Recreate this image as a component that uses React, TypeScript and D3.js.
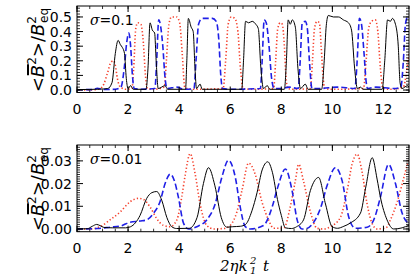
import * as d3 from "d3";

// ---- data ----
const xTicks = [0, 2, 4, 6, 8, 10, 12];
const topYTicks = [0, 0.1, 0.2, 0.3, 0.4, 0.5];
const topYLabels = ["0.0", "0.1", "0.2", "0.3", "0.4", "0.5"];
const botYTicks = [0, 0.01, 0.02, 0.03];
const botYLabels = ["0.00", "0.01", "0.02", "0.03"];

// sigma = 0.1 panel: [t, <B^2>/B_eq^2]
const topBlack = [
  [0, 0.003], [0.5, 0.004], [0.9, 0.006], [1.2, 0.01], [1.37, 0.05], [1.5, 0.25], [1.61, 0.34], [1.7, 0.31],
  [1.78, 0.29], [1.86, 0.25], [1.93, 0.08], [2.0, 0.01], [2.1, 0.03], [2.2, 0.005], [2.7, 0.005], [2.78, 0.15],
  [2.86, 0.46], [2.95, 0.41], [3.04, 0.39], [3.1, 0.2], [3.18, 0.01], [3.45, 0.03], [3.55, 0.005], [4.25, 0.005],
  [4.3, 0.2], [4.36, 0.49], [4.47, 0.43], [4.55, 0.4], [4.62, 0.15], [4.68, 0.01], [4.82, 0.04], [4.9, 0.005],
  [6.45, 0.005], [6.52, 0.2], [6.6, 0.47], [6.72, 0.46], [6.86, 0.47], [7.0, 0.45], [7.1, 0.42], [7.2, 0.15],
  [7.3, 0.01], [7.45, 0.03], [7.55, 0.005], [8.12, 0.005], [8.2, 0.2], [8.27, 0.48], [8.35, 0.45], [8.43, 0.48],
  [8.55, 0.43], [8.65, 0.15], [8.75, 0.01], [8.94, 0.04], [9.05, 0.005], [9.58, 0.005], [9.68, 0.2], [9.76, 0.44],
  [9.84, 0.51], [10.04, 0.5], [10.24, 0.5], [10.43, 0.48], [10.63, 0.46], [10.75, 0.41], [10.87, 0.15], [10.98, 0.01],
  [11.1, 0.02], [11.2, 0.005], [11.95, 0.005], [12.05, 0.2], [12.16, 0.48], [12.27, 0.47], [12.35, 0.49], [12.47, 0.45],
  [12.58, 0.3], [12.65, 0.05], [12.72, 0.01], [12.95, 0.03], [13, 0.02],
];
const topBlue = [
  [0, 0.002], [0.6, 0.003], [0.8, 0.012], [1.0, 0.004], [1.5, 0.005], [1.72, 0.02], [1.85, 0.15], [1.95, 0.33],
  [2.03, 0.39], [2.1, 0.3], [2.17, 0.1], [2.24, 0.01], [2.5, 0.005], [3.05, 0.01], [3.12, 0.2], [3.2, 0.48],
  [3.28, 0.43], [3.36, 0.3], [3.45, 0.08], [3.53, 0.01], [3.9, 0.02], [4.2, 0.005], [4.58, 0.01], [4.66, 0.2],
  [4.76, 0.45], [4.9, 0.49], [5.1, 0.49], [5.3, 0.49], [5.45, 0.47], [5.55, 0.35], [5.63, 0.1], [5.7, 0.01],
  [6.0, 0.005], [7.18, 0.01], [7.25, 0.2], [7.33, 0.48], [7.41, 0.46], [7.52, 0.3], [7.62, 0.08], [7.72, 0.01],
  [8.0, 0.01], [8.3, 0.02], [8.66, 0.01], [8.74, 0.2], [8.82, 0.46], [8.94, 0.47], [9.02, 0.42], [9.1, 0.2],
  [9.2, 0.01], [9.5, 0.01], [10.2, 0.02], [10.88, 0.01], [10.97, 0.2], [11.06, 0.49], [11.14, 0.45], [11.24, 0.25],
  [11.32, 0.06], [11.38, 0.01], [11.7, 0.02], [12.4, 0.01], [12.68, 0.02], [12.78, 0.2], [12.86, 0.45], [12.95, 0.5],
  [13, 0.5],
];
const topRed = [
  [0, 0], [0.7, 0.002], [0.9, 0.01], [1.05, 0.04], [1.2, 0.12], [1.33, 0.19], [1.43, 0.2], [1.5, 0.17],
  [1.58, 0.08], [1.7, 0.02], [1.9, 0.005], [2.15, 0.01], [2.22, 0.15], [2.3, 0.42], [2.38, 0.46], [2.5, 0.45],
  [2.6, 0.32], [2.68, 0.1], [2.76, 0.01], [3.0, 0.005], [3.42, 0.02], [3.5, 0.2], [3.6, 0.45], [3.7, 0.5],
  [3.9, 0.5], [4.02, 0.46], [4.12, 0.25], [4.22, 0.02], [4.4, 0.005], [5.72, 0.01], [5.82, 0.2], [5.92, 0.45],
  [6.04, 0.5], [6.18, 0.49], [6.3, 0.4], [6.4, 0.15], [6.5, 0.01], [6.8, 0.005], [7.7, 0.01], [7.78, 0.2],
  [7.86, 0.42], [7.96, 0.46], [8.04, 0.45], [8.12, 0.3], [8.18, 0.1], [8.25, 0.01], [8.5, 0.005], [9.14, 0.01],
  [9.22, 0.2], [9.3, 0.42], [9.4, 0.47], [9.49, 0.46], [9.56, 0.3], [9.63, 0.1], [9.7, 0.01], [10.0, 0.005],
  [11.22, 0.01], [11.32, 0.2], [11.42, 0.42], [11.53, 0.47], [11.68, 0.48], [11.78, 0.4], [11.88, 0.15], [11.98, 0.01],
  [12.3, 0.005], [12.78, 0.02], [12.9, 0.12], [13, 0.25],
];

// sigma = 0.01 panel
const botBlack = [
  [0, 0], [0.4, 0.0001], [0.6, 0.0012], [0.77, 0.002], [0.9, 0.0015], [1.05, 0.0007], [1.4, 0.0005], [1.9, 0.0005],
  [2.1, 0.001], [2.47, 0.006], [2.73, 0.0135], [2.93, 0.016], [3.12, 0.0165], [3.32, 0.0126], [3.52, 0.005], [3.71, 0.001],
  [3.9, 0.0002], [4.4, 0.0003], [4.7, 0.005], [4.95, 0.02], [5.15, 0.027], [5.4, 0.019], [5.65, 0.005], [5.87, 0.0008],
  [6.1, 0.001], [6.4, 0.0012], [6.6, 0.002], [6.85, 0.008], [7.05, 0.016], [7.25, 0.026], [7.47, 0.0296], [7.65, 0.025],
  [7.85, 0.013], [8.0, 0.006], [8.16, 0.0005], [8.4, 0.0002], [8.6, 0.001], [8.87, 0.004], [9.14, 0.017], [9.46, 0.0227],
  [9.73, 0.011], [9.99, 0.001], [10.2, 0.0003], [10.45, 0.0012], [10.7, 0.0026], [11.1, 0.007], [11.3, 0.018], [11.56, 0.0314],
  [11.75, 0.022], [11.88, 0.014], [12.14, 0.004], [12.4, 0.0], [12.73, 0.0005], [13, 0.0017],
];
const botBlue = [
  [0, 0], [0.8, 0.0002], [1.3, 0.0008], [1.7, 0.0013], [2.08, 0.003], [2.47, 0.0035], [2.73, 0.004], [3.0, 0.007],
  [3.25, 0.012], [3.45, 0.02], [3.65, 0.0242], [3.82, 0.021], [3.97, 0.014], [4.17, 0.0026], [4.37, 0.0], [4.69, 0.001],
  [5.08, 0.004], [5.41, 0.011], [5.67, 0.0227], [5.93, 0.0303], [6.2, 0.0227], [6.39, 0.0097], [6.59, 0.001], [6.78, 0.0],
  [7.3, 0.0015], [7.65, 0.01], [7.85, 0.018], [8.16, 0.0264], [8.42, 0.017], [8.62, 0.004], [8.81, 0.0], [9.0, 0.0002],
  [9.27, 0.003], [9.53, 0.009], [9.79, 0.019], [10.12, 0.027], [10.38, 0.0213], [10.64, 0.0053], [10.9, 0.0003], [11.36, 0.0008],
  [11.62, 0.004], [11.88, 0.014], [12.2, 0.0285], [12.47, 0.02], [12.73, 0.007], [12.93, 0.003], [13, 0.0025],
];
const botRed = [
  [0, 0], [0.5, 0], [0.9, 0.001], [1.29, 0.004], [1.69, 0.0075], [2.08, 0.012], [2.4, 0.0135], [2.6, 0.013],
  [2.86, 0.0097], [3.12, 0.0046], [3.38, 0.0016], [3.65, 0.001], [3.91, 0.004], [4.1, 0.014], [4.24, 0.024], [4.43, 0.0332],
  [4.63, 0.024], [4.82, 0.011], [5.08, 0.0016], [5.35, 0], [5.74, 0.0002], [6.0, 0.0016], [6.26, 0.0075], [6.46, 0.017],
  [6.72, 0.029], [6.98, 0.024], [7.24, 0.012], [7.5, 0.004], [7.7, 0.0003], [8.1, 0.0005], [8.35, 0.0097], [8.55, 0.0213],
  [8.68, 0.0285], [8.87, 0.021], [9.14, 0.0075], [9.4, 0.0003], [9.66, 0], [9.92, 0.001], [10.31, 0.005], [10.58, 0.017],
  [10.77, 0.0285], [10.97, 0.033], [11.16, 0.0253], [11.36, 0.011], [11.56, 0.0023], [11.75, 0], [12.1, 0.0005], [12.27, 0.004],
  [12.54, 0.012], [12.8, 0.0227], [13, 0.0313],
];

const W = 415;
const H = 277;
const left = 77;
const right = 409;
const tickFont = "'DejaVu Sans', sans-serif";

const styles = {
  black: { stroke: "#000", strokeWidth: 1, dash: undefined },
  blue: { stroke: "#1f1fe6", strokeWidth: 1.6, dash: "6,3" },
  red: { stroke: "#f5402c", strokeWidth: 1.6, dash: "1.3,2.2" },
};

type Pt = number[];

function Panel({ id, top, bottom, domain, ticks, labels, minorStep, series, sigma }: {
  id: string; top: number; bottom: number; domain: [number, number]; ticks: number[]; labels: string[];
  minorStep: number; series: { data: Pt[]; style: { stroke: string; strokeWidth: number; dash?: string } }[]; sigma: string;
}) {
  const x = d3.scaleLinear().domain([0, 13]).range([left, right]);
  const y = d3.scaleLinear().domain(domain).range([bottom, top]);
  const line = d3.line<Pt>().x((d) => x(d[0])).y((d) => y(d[1])).curve(d3.curveMonotoneX);
  const yMinor = d3.range(Math.ceil(domain[0] / minorStep) * minorStep, domain[1], minorStep);
  const xMinor = d3.range(0, 13.01, 0.5);
  const midY = (top + bottom) / 2;

  return (
    <g>
      <defs>
        <clipPath id={id}>
          <rect x={left} y={top} width={right - left} height={bottom - top} />
        </clipPath>
      </defs>
      <g clipPath={`url(#${id})`}>
        {series.map((s, i) => (
          <path key={i} d={line(s.data) || ""} fill="none" stroke={s.style.stroke}
            strokeWidth={s.style.strokeWidth} strokeDasharray={s.style.dash} />
        ))}
      </g>
      <rect x={left} y={top} width={right - left} height={bottom - top} fill="none" stroke="#000" strokeWidth={1} />
      {/* y ticks, both sides */}
      {yMinor.map((v, i) => (
        <g key={"ym" + i} stroke="#000" strokeWidth={0.8}>
          <line x1={left} x2={left + 3} y1={y(v)} y2={y(v)} />
          <line x1={right} x2={right - 3} y1={y(v)} y2={y(v)} />
        </g>
      ))}
      {ticks.map((v, i) => (
        <g key={"y" + i}>
          <line x1={left} x2={left + 6} y1={y(v)} y2={y(v)} stroke="#000" />
          <line x1={right} x2={right - 6} y1={y(v)} y2={y(v)} stroke="#000" />
          <text x={left - 5} y={y(v)} dy="0.36em" textAnchor="end" fontSize={14} fontFamily={tickFont}>{labels[i]}</text>
        </g>
      ))}
      {/* x ticks, top and bottom */}
      {xMinor.map((v, i) => (
        <g key={"xm" + i} stroke="#000" strokeWidth={0.8}>
          <line x1={x(v)} x2={x(v)} y1={bottom} y2={bottom - 3} />
          <line x1={x(v)} x2={x(v)} y1={top} y2={top + 3} />
        </g>
      ))}
      {xTicks.map((v) => (
        <g key={"x" + v}>
          <line x1={x(v)} x2={x(v)} y1={bottom} y2={bottom - 6} stroke="#000" />
          <line x1={x(v)} x2={x(v)} y1={top} y2={top + 6} stroke="#000" />
          <text x={x(v)} y={bottom + 21} textAnchor="middle" fontSize={14} fontFamily={tickFont}>{v}</text>
        </g>
      ))}
      <text x={90} y={top + 19} fontSize={14} fontFamily={tickFont}>
        <tspan fontFamily="'DejaVu Serif', serif" fontStyle="italic">σ</tspan>=0.{sigma}
      </text>
      {/* y axis title */}
      <g transform={`translate(44,${midY + 43}) rotate(-90)`} fontFamily={tickFont}>
        <text x={0} y={0} fontSize={18}>
          <tspan>&lt;</tspan>
          <tspan fontStyle="italic">B</tspan>
          <tspan fontSize={12} dy={-8}>2</tspan>
          <tspan dy={8}>&gt;/</tspan>
          <tspan fontStyle="italic">B</tspan>
          <tspan fontSize={12} dy={-8}>2</tspan>
          <tspan fontSize={12} dx={-7} dy={12}>eq</tspan>
        </text>
        <line x1={17} x2={28} y1={-16} y2={-16} stroke="#000" strokeWidth={2} />
      </g>
    </g>
  );
}

export default function App() {
  return (
    <svg width={W} height={H} style={{ position: "absolute", left: 0, top: 0, background: "#fff" }}>
      <Panel id="clipTop" top={6} bottom={92.5} domain={[-0.017, 0.575]} ticks={topYTicks} labels={topYLabels}
        minorStep={0.02} sigma="1"
        series={[
          { data: topRed, style: styles.red },
          { data: topBlue, style: styles.blue },
          { data: topBlack, style: styles.black },
        ]} />
      <Panel id="clipBot" top={145} bottom={231.7} domain={[-0.0012, 0.037]} ticks={botYTicks} labels={botYLabels}
        minorStep={0.001} sigma="01"
        series={[
          { data: botRed, style: styles.red },
          { data: botBlue, style: styles.blue },
          { data: botBlack, style: styles.black },
        ]} />
      {/* x axis title */}
      <g fontFamily="'DejaVu Serif', serif" fontStyle="italic" fontSize={15}>
        <text x={220} y={271}>2ηk</text>
        <text x={250} y={264} fontSize={10}>2</text>
        <text x={250} y={274} fontSize={10}>1</text>
        <text x={263} y={271}>t</text>
      </g>
    </svg>
  );
}
